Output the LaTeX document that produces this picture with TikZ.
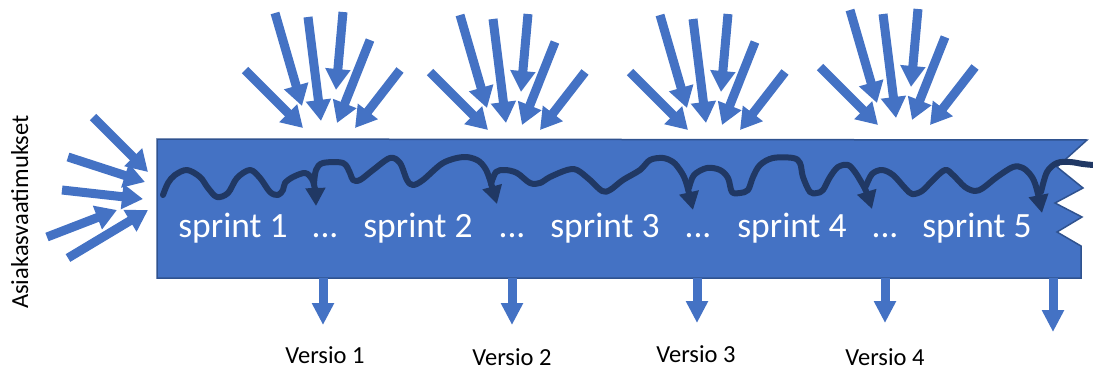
\documentclass[tikz,border=0pt]{standalone}
\usepackage{fontspec}
\setmainfont{Carlito}
\usetikzlibrary{arrows.meta}
\definecolor{ablue}{HTML}{4472C4}
\definecolor{bdark}{HTML}{2F528F}
\definecolor{navy}{HTML}{203864}
\begin{document}
\begin{tikzpicture}[x=1pt,y=-1pt,
  bigarrow/.style={draw=ablue, line width=9pt, -{Triangle[width=24pt,length=21pt]}},
  downarrow/.style={draw=ablue, line width=9pt, -{Triangle[width=21pt,length=22pt]}},
  squiggle/.style={draw=navy, line width=6pt, line cap=round, line join=round, -{Triangle[width=19pt,length=18pt]}},
  sprinttext/.style={text=white, font=\fontsize{35.5}{42}\selectfont, anchor=base, inner sep=0pt},
  versiotext/.style={text=black, font=\fontsize{24.5}{29}\selectfont, anchor=base, inner sep=0pt}]
\useasboundingbox (0,0) rectangle (1093,369);

% top arrow groups
\foreach \dx/\dy in {0/0, 185/2, 385/2, 575/-3}{
  \begin{scope}[shift={(\dx,\dy)}]
    \draw[bigarrow] (245,70) -- (303,128);
    \draw[bigarrow] (275,13) -- (302,106);
    \draw[bigarrow] (308,17) -- (321,121);
    \draw[bigarrow] (343,12) -- (336,90);
    \draw[bigarrow] (370,40) -- (337,123);
    \draw[bigarrow] (400,70) -- (355,128);
  \end{scope}
}

% left arrows
\draw[bigarrow] (93,117) -- (148,172);
\draw[bigarrow] (68,157) -- (145,182);
\draw[bigarrow] (62,190) -- (143,199);
\draw[bigarrow] (47,237) -- (117,210);
\draw[bigarrow] (68,258) -- (148,210);

% main band
\path[fill=ablue, draw=bdark, line width=1.5pt, line join=miter]
  (157,139) -- (1087,140) -- (1057,167) -- (1083,188) -- (1055,203) -- (1082,217)
  -- (1057,232) -- (1081,246) -- (1081,278) -- (157,278) -- cycle;

% squiggle
\draw[squiggle] plot[smooth, tension=0.55] coordinates {(163,195) (168,183) (175,175) (187,170) (200,177) (208,188) (217,197) (228,193) (237,178) (250,170) (260,178) (270,192) (278,195) (283,190) (285,183) (293,177) (305,173) (312,179) (315,190) (316,206)};
\draw[squiggle] plot[smooth, tension=0.55] coordinates {(314,184) (316,170) (323,163) (343,163) (350,173) (353,180) (360,180) (373,170) (390,158) (400,163) (407,180) (413,185) (423,180) (443,163) (463,157) (477,160) (485,168) (490,180) (497,204)};
\draw[squiggle] plot[smooth, tension=0.55] coordinates {(491,184) (496,172) (505,170) (517,173) (530,183) (540,183) (550,177) (567,170) (577,170) (590,180) (602,191) (610,190) (623,180) (640,170) (650,160) (663,158) (673,162) (680,170) (686,182) (693,210)};
\draw[squiggle] plot[smooth, tension=0.55] coordinates {(689,188) (694,175) (707,168) (720,170) (728,178) (732,192) (740,193) (748,190) (753,177) (760,165) (773,158) (793,158) (800,163) (803,177) (810,192) (817,193) (823,190) (830,177) (838,167) (848,165) (855,172) (860,180) (866,191) (872,209)};
\draw[squiggle] plot[smooth, tension=0.55] coordinates {(866,186) (872,174) (882,170) (893,175) (905,188) (912,194) (922,191) (933,180) (945,170) (953,175) (965,187) (975,191) (983,188) (997,177) (1013,167) (1023,168) (1032,177) (1037,190) (1042,213)};
\draw[draw=navy, line width=6pt, line cap=round, line join=round] plot[smooth, tension=0.55] coordinates {(1041,192) (1047,172) (1057,163) (1070,162) (1083,164) (1093,165)};

% sprint labels
\node[sprinttext] (s1) at (233,237) {sprint 1};
\node[sprinttext] (d1) at (325,237) {...};
\node[sprinttext] (s2) at (418,237) {sprint 2};
\node[sprinttext] (d2) at (512,237) {...};
\node[sprinttext] (s3) at (605,237) {sprint 3};
\node[sprinttext] (d3) at (698,237) {...};
\node[sprinttext] (s4) at (792,237) {sprint 4};
\node[sprinttext] (d4) at (885,237) {...};
\node[sprinttext] (s5) at (977,237) {sprint 5};

% down arrows
\coordinate (b1) at (323,278); \coordinate (t1) at (323,325);
\coordinate (b2) at (512,278); \coordinate (t2) at (512,325);
\coordinate (b3) at (697,278); \coordinate (t3) at (697,323);
\coordinate (b4) at (885,278); \coordinate (t4) at (885,323);
\coordinate (b5) at (1053,278); \coordinate (t5) at (1053,332);
\foreach \i in {1,...,5}{\draw[downarrow] (b\i) -- (t\i);}

% version labels
\node[versiotext] (v1) at (325,363) {Versio 1};
\node[versiotext] (v2) at (512,365) {Versio 2};
\node[versiotext] (v3) at (696,362) {Versio 3};
\node[versiotext] (v4) at (885,365) {Versio 4};

% side label
\node[text=black, font=\fontsize{24.5}{29}\selectfont, rotate=90, anchor=base, inner sep=0pt] (req) at (28,212) {Asiakasvaatimukset};
\end{tikzpicture}
\end{document}
